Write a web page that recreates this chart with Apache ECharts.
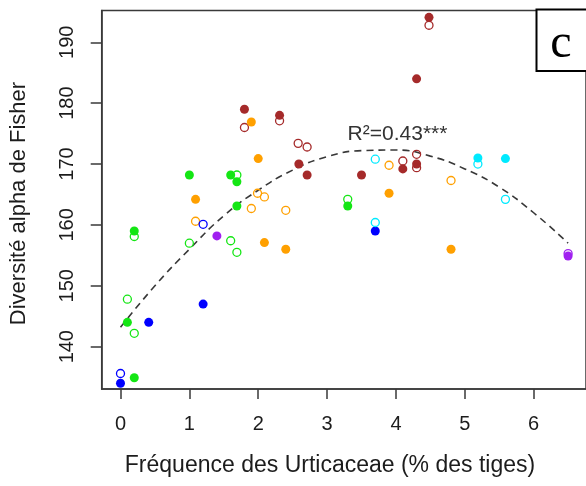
<!DOCTYPE html>
<html>
<head>
<meta charset="utf-8">
<script src="https://cdn.jsdelivr.net/npm/echarts@6/dist/echarts.min.js"></script>
<style>
  html, body { margin: 0; padding: 0; background: #fff; }
  #chart { width: 586px; height: 486px; }
</style>
</head>
<body>
<div id="chart"></div>
<script>
// Urticaceae stem frequency (%) vs Fisher's alpha, grouped by site colour.
// Filled = one census, open = the other census.
const brownFilled  = [[1.80,179.0],[4.48,194.1],[4.30,184.0],[2.31,178.0],[2.59,170.0],[2.71,168.2],[3.50,168.2],[4.10,169.2],[4.30,170.0]];
const brownOpen    = [[1.80,176.0],[4.48,192.8],[2.31,177.1],[2.58,173.4],[2.71,172.8],[4.10,170.5],[4.30,171.6],[4.30,169.4]];
const orangeFilled = [[1.90,176.9],[2.00,170.9],[1.09,164.2],[3.90,165.2],[2.09,157.1],[2.40,156.0],[4.80,156.0]];
const orangeOpen   = [[1.99,165.2],[2.09,164.6],[3.90,169.8],[4.80,167.3],[1.90,162.7],[1.09,160.6],[2.40,162.4]];
const greenFilled  = [[1.00,168.2],[1.60,168.2],[1.69,167.1],[1.69,163.1],[0.20,159.0],[0.10,144.0],[0.20,134.9],[3.30,163.1]];
const greenOpen    = [[1.69,168.2],[3.30,164.2],[0.20,158.1],[1.00,157.0],[1.60,157.4],[1.69,155.5],[0.10,147.8],[0.20,142.2]];
const blueFilled   = [[1.20,147.0],[0.41,144.0],[0.00,134.0],[3.70,159.0]];
const blueOpen     = [[1.20,160.1],[0.00,135.6]];
const cyanFilled   = [[5.19,171.0],[5.59,170.9]];
const cyanOpen     = [[3.70,170.8],[5.19,170.0],[5.59,164.2],[3.70,160.4]];
const purpleFilled = [[1.40,158.2],[6.50,154.9]];
const purpleOpen   = [[6.50,155.3]];

// Quadratic trend as drawn (x, fitted alpha)
const trendX = [0, 0.5, 1, 1.5, 2, 2.5, 3, 3.5, 4, 4.5, 5, 5.5, 6, 6.5];
const trendY = [143.2, 150.0, 156.0, 161.5, 165.7, 169.0, 171.2, 172.2, 172.3, 171.3, 169.2, 166.2, 162.0, 157.0];

const xTicks = [0, 1, 2, 3, 4, 5, 6];
const yTicks = [140, 150, 160, 170, 180, 190];

const fitLabel = 'R²=0.43***';
const xTitle = 'Fréquence des Urticaceae (% des tiges)';
const yTitle = 'Diversité alpha de Fisher';
const panelTag = 'c';

const COLORS = {
  brown: '#a52a2a', orange: '#ffa000', green: '#14e614',
  blue: '#0000ff', cyan: '#00eaff', purple: '#a020f0'
};

function filled(data, color) {
  return { type: 'scatter', data, symbol: 'circle', symbolSize: 9,
           itemStyle: { color, opacity: 1 }, silent: true };
}
function open(data, color) {
  return { type: 'scatter', data, symbol: 'circle', symbolSize: 8,
           itemStyle: { color: 'rgba(0,0,0,0)', borderColor: color, borderWidth: 1.3, opacity: 1 },
           silent: true };
}

const axisColor = '#3a3a3a';
const textColor = '#1c1c1c';

const chart = echarts.init(document.getElementById('chart'), null, { renderer: 'canvas' });
chart.setOption({
  animation: false,
  backgroundColor: '#fff',
  grid: { left: 101.7, top: 10.5, width: 488.8, height: 378.5,
          show: true, borderColor: axisColor, borderWidth: 1.5, backgroundColor: 'transparent' },
  xAxis: {
    type: 'value', min: -0.273, max: 6.76,
    splitLine: { show: false },
    axisLine: { show: true, onZero: false, lineStyle: { color: axisColor, width: 1.5 } },
    axisTick: { show: true, inside: false, length: 10, customValues: xTicks,
                lineStyle: { color: axisColor, width: 1.5 } },
    axisLabel: { customValues: xTicks, fontSize: 20, margin: 25, color: textColor,
                 fontFamily: 'Liberation Sans, Arial, sans-serif' }
  },
  yAxis: {
    type: 'value', min: 133.05, max: 195.22,
    splitLine: { show: false },
    axisLine: { show: true, onZero: false, lineStyle: { color: axisColor, width: 1.5 } },
    axisTick: { show: true, inside: false, length: 11, customValues: yTicks,
                lineStyle: { color: axisColor, width: 1.5 } },
    axisLabel: { customValues: yTicks, rotate: 90, fontSize: 20, margin: 24, color: textColor,
                 fontFamily: '"Liberation Sans Narrow", "Arial Narrow", "Liberation Sans", sans-serif' }
  },
  series: [
    {
      type: 'line', data: trendX.map((x, i) => [x, trendY[i]]), smooth: true,
      symbol: 'none', silent: true, z: 1,
      lineStyle: { color: '#383838', width: 1.6, type: [7, 5] }
    },
    filled(brownFilled, COLORS.brown),   open(brownOpen, COLORS.brown),
    filled(orangeFilled, COLORS.orange), open(orangeOpen, COLORS.orange),
    filled(greenFilled, COLORS.green),   open(greenOpen, COLORS.green),
    filled(blueFilled, COLORS.blue),     open(blueOpen, COLORS.blue),
    filled(cyanFilled, COLORS.cyan),     open(cyanOpen, COLORS.cyan),
    filled(purpleFilled, COLORS.purple), open(purpleOpen, COLORS.purple)
  ],
  graphic: [
    { type: 'text', x: 330, y: 466, z: 10,
      style: { text: xTitle, font: '23px "Liberation Sans", Arial, sans-serif', fill: textColor,
               align: 'center', verticalAlign: 'middle' } },
    { type: 'text', x: 19, y: 203.5, rotation: Math.PI / 2, z: 10,
      style: { text: yTitle, font: '22px "Liberation Sans", Arial, sans-serif', fill: textColor,
               align: 'center', verticalAlign: 'middle' } },
    { type: 'text', x: 397.5, y: 134, z: 10,
      style: { text: fitLabel, font: '21px "Liberation Sans", Arial, sans-serif', fill: '#333',
               align: 'center', verticalAlign: 'middle' } },
    { type: 'rect', z: 20, shape: { x: 536.5, y: 9.5, width: 80, height: 61.5 },
      style: { fill: '#fff', stroke: '#000', lineWidth: 2 } },
    { type: 'text', x: 561, y: 44, z: 21,
      style: { text: panelTag, fontFamily: 'Liberation Serif', fontSize: 48, fontWeight: 'normal',
               fill: '#000', align: 'center', verticalAlign: 'middle' } }
  ]
});
</script>
</body>
</html>
